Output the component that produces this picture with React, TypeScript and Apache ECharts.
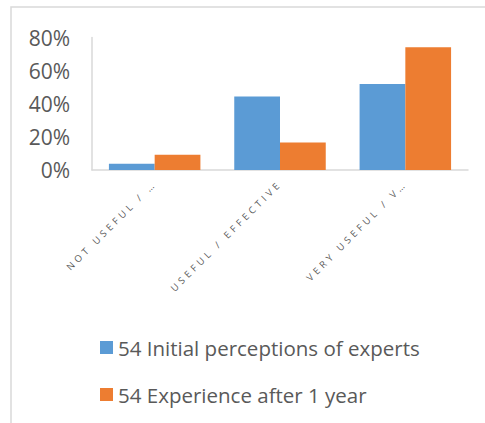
import React, { useEffect, useRef } from "react";
import * as echarts from "echarts";

const categories = ["NOT USEFUL / …", "USEFUL / EFFECTIVE", "VERY USEFUL / V…"];
const seriesNames = ["54 Initial perceptions of experts", "54 Experience after 1 year"];
const initialValues = [0.037, 0.444, 0.5185];
const afterValues = [0.0926, 0.1667, 0.7407];
const yTicks = [0, 0.2, 0.4, 0.6, 0.8];
const colors = ["#5B9BD5", "#ED7D31"];

export default function App() {
  const ref = useRef<HTMLDivElement>(null);
  useEffect(() => {
    if (!ref.current) return;
    const chart = echarts.init(ref.current, null, { renderer: "svg" });
    const font = "'Open Sans', 'Noto Sans', sans-serif";
    chart.setOption({
      animation: false,
      backgroundColor: "#ffffff",
      textStyle: { fontFamily: font },
      graphic: [
        {
          type: "rect",
          shape: { x: 11, y: 7, width: 490, height: 430 },
          style: { fill: "none", stroke: "#d9d9d9", lineWidth: 1.5 },
          silent: true,
        },
      ],
      grid: { left: 92, right: 17, top: 37.5, bottom: 253, containLabel: false },
      legend: {
        orient: "vertical",
        left: 95,
        top: 332,
        icon: "rect",
        itemWidth: 13,
        itemHeight: 13,
        itemGap: 26,
        textStyle: { fontSize: 20.5, color: "#595959", fontFamily: font, lineHeight: 20 },
        data: seriesNames,
      },
      xAxis: {
        type: "category",
        data: categories,
        axisLine: { show: true, lineStyle: { color: "#d9d9d9", width: 1.5 } },
        axisTick: { show: false },
        axisLabel: {
          rotate: 45,
          interval: 0,
          fontSize: 9.5,
          color: "#595959",
          fontFamily: font,
          margin: 12,
        },
      },
      yAxis: {
        type: "value",
        min: 0,
        max: 0.8,
        interval: 0.2,
        axisLine: { show: true, lineStyle: { color: "#d9d9d9", width: 1.5 } },
        axisTick: { show: false },
        splitLine: { show: false },
        axisLabel: {
          fontSize: 21,
          color: "#595959",
          fontFamily: font,
          margin: 22,
          formatter: (v: number) => {
            const t = yTicks.find((x) => Math.abs(x - v) < 1e-9);
            return Math.round((t ?? v) * 100) + "%";
          },
        },
      },
      series: [
        {
          name: seriesNames[0],
          type: "bar",
          data: initialValues,
          itemStyle: { color: colors[0] },
          barGap: "0%",
          barCategoryGap: "27%",
        },
        {
          name: seriesNames[1],
          type: "bar",
          data: afterValues,
          itemStyle: { color: colors[1] },
          barGap: "0%",
          barCategoryGap: "27%",
        },
      ],
    });
    const applySpacing = () => {
      ref.current?.querySelectorAll("text").forEach((t) => {
        if (categories.includes((t.textContent || "").trim())) {
          t.setAttribute("letter-spacing", "3.6px");
        }
      });
    };
    applySpacing();
    chart.on("finished", applySpacing);
    return () => chart.dispose();
  }, []);
  return (
    <div
      ref={ref}
      style={{ position: "fixed", left: 0, top: 0, width: 485, height: 423, background: "#fff" }}
    />
  );
}
